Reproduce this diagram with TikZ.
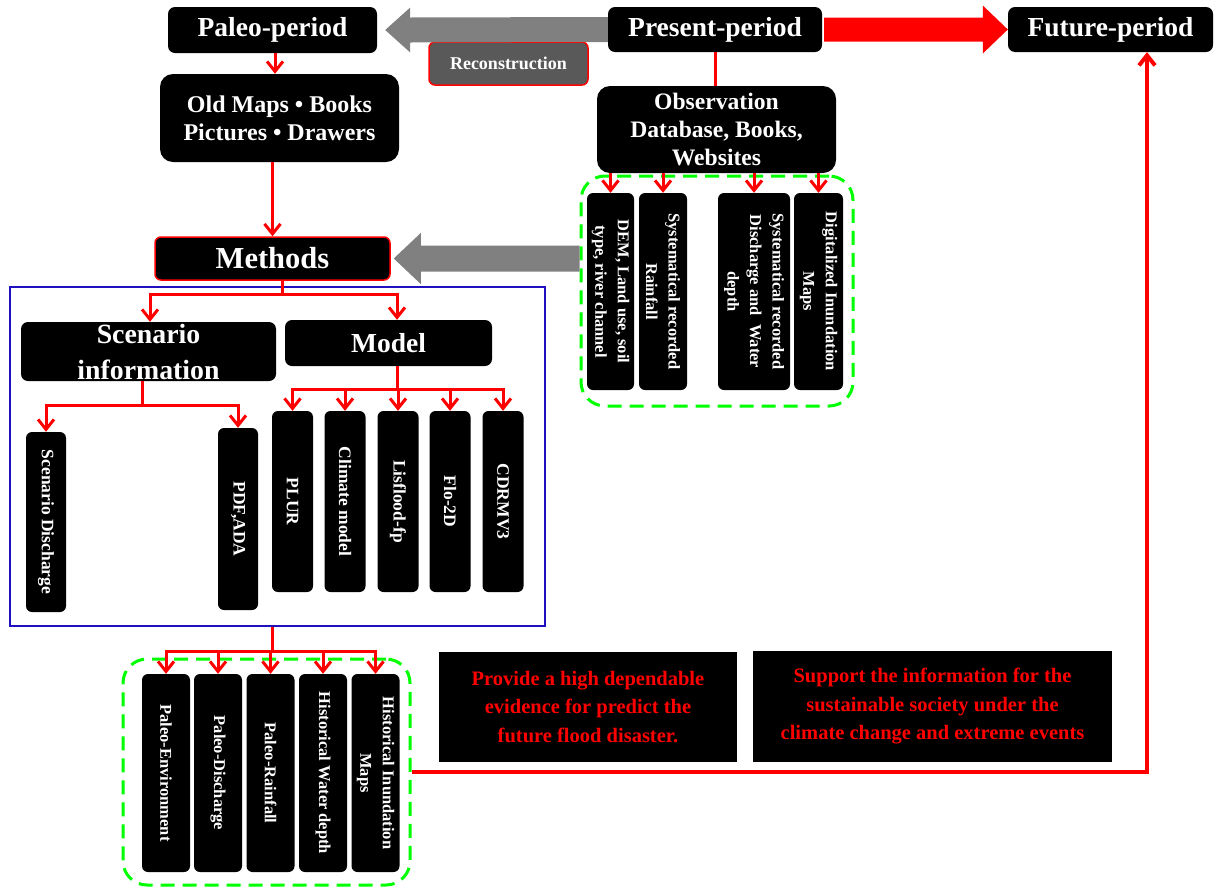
\documentclass[tikz,border=0pt]{standalone}
\usepackage{fontspec}
\setmainfont{Liberation Serif}
\usetikzlibrary{arrows.meta,calc}

\definecolor{arrgray}{RGB}{128,128,128}
\definecolor{recgray}{RGB}{89,89,89}
\definecolor{frameblue}{RGB}{32,16,192}

\newcommand{\ttlfont}{\fontsize{27.5}{30}\selectfont\bfseries}
\newcommand{\srcfont}{\fontsize{24}{27.7}\selectfont\bfseries}
\newcommand{\vbxfont}{\fontsize{16.5}{22.5}\selectfont\bfseries}
\newcommand{\msgfont}{\fontsize{20.5}{28.5}\selectfont\bfseries}

\tikzset{
  blk/.style={fill=black, rounded corners=7pt, inner sep=0pt, text=white, align=center},
  vbx/.style={fill=black, rounded corners=6pt, inner sep=0pt, text=white, align=center, rotate=-90, font=\vbxfont},
  redln/.style={red, line width=3pt},
  redar/.style={red, line width=3pt, -{Straight Barb[length=10pt,width=16pt]}},
  grp/.style={draw=green, line width=3pt, dash pattern=on 14pt off 8pt, rounded corners=24pt, inner sep=0pt},
}

\begin{document}
\begin{tikzpicture}[x=1pt,y=-1pt]
\useasboundingbox (0,0) rectangle (1215,887);

% periods
\node [blk, minimum width=209, minimum height=46, font=\ttlfont] (paleo) at (272.5,30) {Paleo-period};
\node [blk, minimum width=214, minimum height=45, font=\ttlfont] (present) at (715,29.5) {Present-period};
\node [blk, minimum width=205, minimum height=45, font=\ttlfont] (future) at (1110.5,29.5) {Future-period};
\node [blk, draw=red, line width=1.5pt, fill=recgray, rounded corners=6pt, minimum width=159, minimum height=43,
       font=\fontsize{18}{20}\selectfont\bfseries] (recon) at (508.5,63.5) {Reconstruction};

% big arrows
\fill [arrgray] ($(present.west)+(0,-12.5)$) -- ($(paleo.east)+(33,-12.5)$) -- ($(paleo.east)+(33,-22.5)$)
  -- ($(paleo.east)+(8,0)$) -- ($(paleo.east)+(33,22.5)$) -- ($(paleo.east)+(33,12.5)$) -- ($(present.west)+(0,12.5)$) -- cycle;
\fill [red] ($(present.east)+(2,-12)$) -- ($(future.west)+(-25,-12)$) -- ($(future.west)+(-25,-24)$)
  -- (future.west) -- ($(future.west)+(-25,24)$) -- ($(future.west)+(-25,12)$) -- ($(present.east)+(2,12)$) -- cycle;

% sources
\node [blk, rounded corners=13pt, minimum width=239, minimum height=88, font=\srcfont] (oldmaps) at (279.5,118) {Old Maps • Books\\Pictures • Drawers};
\node [blk, rounded corners=13pt, minimum width=239, minimum height=87, font=\fontsize{23.6}{28}\selectfont\bfseries] (obs) at (716.5,129.5) {Observation\\Database, Books,\\Websites};

\draw [redar] (paleo.south -| 275,0) -- (oldmaps.north -| 275,0);
\draw [redln] (present.south) -- (present.south |- obs.north);

% observation group
\node [grp, minimum width=272, minimum height=230] (obsgrp) at (717,291) {};
\node [vbx, minimum width=197, minimum height=47] (dem) at (610.5,291.5) {DEM, Land use, soil\\type, river channel};
\node [vbx, minimum width=197, minimum height=48] (rain) at (663,291.5) {Systematical recorded\\Rainfall};
\node [vbx, minimum width=197, minimum height=72] (disch) at (754,291.5) {Systematical recorded\\Discharge and\ \ Water\\depth};
\node [vbx, minimum width=197, minimum height=49] (digit) at (818.5,291.5) {Digitalized Inundation\\Maps};

\draw [redar] (dem.west |- obs.south) -- (dem.west);
\draw [redar] (rain.west |- obs.south) -- (rain.west);
\draw [redar] (disch.west |- obs.south) -- (disch.west);
\draw [redar] (digit.west |- obs.south) -- (digit.west);

% methods
\node [blk, draw=red, line width=1.5pt, rounded corners=6pt, minimum width=235, minimum height=43,
       font=\fontsize{30.5}{32}\selectfont\bfseries] (methods) at (272.5,258.5) {Methods};
\draw [redar] (methods.north |- oldmaps.south) -- (methods.north);
\fill [arrgray] ($(obsgrp.west |- methods.east)+(0,-13)$) -- ($(methods.east)+(30,-13)$) -- ($(methods.east)+(30,-25.5)$)
  -- ($(methods.east)+(3,0)$) -- ($(methods.east)+(30,25.5)$) -- ($(methods.east)+(30,13)$) -- ($(obsgrp.west |- methods.east)+(0,13)$) -- cycle;

\node [draw=frameblue, line width=2.5pt, minimum width=535, minimum height=339, inner sep=0pt] (mbox) at (277.5,456.5) {};

\node [blk, minimum width=255, minimum height=59, font=\fontsize{27.8}{36}\selectfont\bfseries] (scen) at (148.5,351.5) {Scenario\\information};
\node [blk, minimum width=207, minimum height=46, font=\ttlfont] (model) at (388.5,343) {Model};

\coordinate (msplit) at (282,294);
\draw [redln] (methods.south -| msplit) -- (msplit);
\draw [redar] (msplit) -| ($(scen.north)+(1.5,0)$);
\draw [redar] (msplit) -| ($(model.north)+(8.5,0)$);

% scenario branch
\node [vbx, font=\fontsize{17.5}{22}\selectfont\bfseries, minimum width=180, minimum height=40] (sdis) at (46,522) {Scenario Discharge};
\node [vbx, font=\fontsize{17.5}{22}\selectfont\bfseries, minimum width=182, minimum height=40] (pdf) at (238,519) {PDF,ADA};

\coordinate (ssplit) at (142,405);
\draw [redln] (scen.south -| ssplit) -- (ssplit);
\draw [redar] (ssplit) -| (sdis.west);
\draw [redar] (ssplit) -| (pdf.west);

% model branch
\node [vbx, font=\fontsize{17.5}{22}\selectfont\bfseries, minimum width=181, minimum height=41] (plur) at (292.5,501.5) {PLUR};
\node [vbx, font=\fontsize{17.5}{22}\selectfont\bfseries, minimum width=181, minimum height=41] (climod) at (345,501.5) {Climate model};
\node [vbx, font=\fontsize{17.5}{22}\selectfont\bfseries, minimum width=181, minimum height=41] (lisfl) at (398,501.5) {Lisflood-fp};
\node [vbx, font=\fontsize{17.5}{22}\selectfont\bfseries, minimum width=181, minimum height=41] (flo) at (450,501.5) {Flo-2D};
\node [vbx, font=\fontsize{17.5}{22}\selectfont\bfseries, minimum width=181, minimum height=41] (cdrmv) at (503,501.5) {CDRMV3};

\coordinate (msplit2) at (397,389);
\draw [redln] (model.south -| msplit2) -- (msplit2);
\draw [redar] (msplit2) -| (plur.west);
\draw [redar] (msplit2) -| (climod.west);
\draw [redar] (msplit2) -| (lisfl.west);
\draw [redar] (msplit2) -| (flo.west);
\draw [redar] (msplit2) -| (cdrmv.west);

% paleo results
\node [grp, minimum width=287, minimum height=226] (botgrp) at (266.5,772) {};
\node [vbx, minimum width=198, minimum height=48] (penv) at (166,773) {Paleo-Environment};
\node [vbx, minimum width=198, minimum height=48] (pdis) at (218,773) {Paleo-Discharge};
\node [vbx, minimum width=198, minimum height=48] (prain) at (270.5,773) {Paleo-Rainfall};
\node [vbx, minimum width=198, minimum height=48] (hwd) at (323,773) {Historical Water depth};
\node [vbx, minimum width=198, minimum height=48] (hinm) at (375.5,773) {Historical Inundation\\Maps};

\coordinate (bsplit) at (272,651);
\draw [redln] (mbox.south -| bsplit) -- (bsplit);
\draw [redar] (bsplit) -| (penv.west);
\draw [redar] (bsplit) -| (pdis.west);
\draw [redar] (bsplit) -| (prain.west);
\draw [redar] (bsplit) -| (hwd.west);
\draw [redar] (bsplit) -| (hinm.west);

% messages
\node [fill=black, minimum width=298, minimum height=110, inner sep=0pt, text=red, font=\msgfont, align=center] (msg1) at (588,707)
  {Provide a high dependable\\evidence for predict the\\future flood disaster.};
\node [fill=black, minimum width=359, minimum height=111, inner sep=0pt, text=red, font=\msgfont, align=center] (msg2) at (932.5,706.5)
  {Support the information for the\\sustainable society under the\\climate change and extreme events};

\coordinate (fturn) at (1147,772);
\draw [redar, line width=4pt] (botgrp.east) -- (fturn) -- (fturn |- future.south);

\end{tikzpicture}
\end{document}
